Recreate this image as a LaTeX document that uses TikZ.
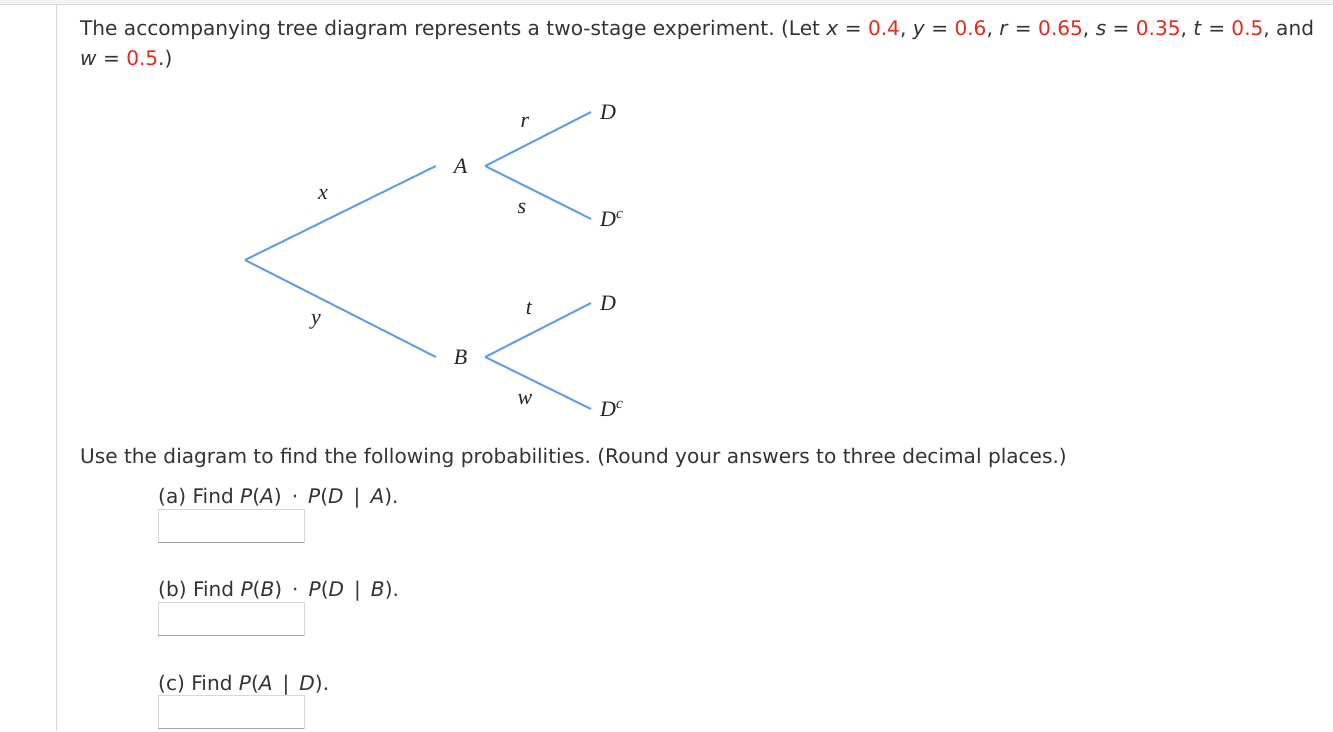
\documentclass[tikz,border=0pt]{standalone}
\usepackage{fontspec}
\setmainfont{DejaVu Sans}
\newfontfamily\treefont{Liberation Serif}
\definecolor{txt}{RGB}{51,51,51}
\definecolor{ans}{RGB}{232,40,30}
\definecolor{branch}{RGB}{95,158,235}
\definecolor{topbar}{RGB}{243,243,243}
\definecolor{rule}{RGB}{215,215,215}
\frenchspacing
\newcommand{\wsp}{\hspace{0.5em}}
\begin{document}
\begin{tikzpicture}[x=1pt,y=-1pt,
  body/.style={anchor=base west,inner sep=0pt,font=\fontsize{20.1}{24}\selectfont,text=txt},
  branchline/.style={draw=branch,line width=2pt},
  tlabel/.style={inner sep=0pt,font=\treefont\itshape\fontsize{22}{24}\selectfont,text=black!85},
  midnode/.style={tlabel,minimum width=49pt,minimum height=16pt},
  leaf/.style={tlabel,anchor=west,inner xsep=9pt},
  ansbox/.style={draw=rule,line width=0.8pt,minimum width=146pt,minimum height=33pt,inner sep=0pt}]
\useasboundingbox (0,0) rectangle (1333,731);
\fill[white] (0,0) rectangle (1333,731);
\fill[topbar] (0,0) rectangle (1333,4.5);
\draw[rule,line width=0.8pt] (0,4.5) -- (1333,4.5);
\draw[rule,line width=1pt] (56.5,4.5) -- (56.5,731);

\node[body] (l1) at (80,35) {The accompanying tree diagram represents a two-stage experiment. (Let \textit{x} = \textcolor{ans}{0.4}, \textit{y} = \textcolor{ans}{0.6}, \textit{r} = \textcolor{ans}{0.65}, \textit{s} = \textcolor{ans}{0.35}, \textit{t} = \textcolor{ans}{0.5}, and};
\node[body] (l2) at (80,65) {\textit{w} = \textcolor{ans}{0.5}.)};

% tree
\coordinate (root) at (245,260);
\node[midnode] (A) at (460.5,166) {A};
\node[midnode] (B) at (460.5,357) {B};
\node[leaf] (D1) at (591,112) {D};
\node[leaf] (D1c) at (591,219) {D\textsuperscript{c}};
\node[leaf] (D2) at (591,303) {D};
\node[leaf] (D2c) at (591,409) {D\textsuperscript{c}};
\draw[branchline] (root) -- (A.west);
\draw[branchline] (root) -- (B.west);
\draw[branchline] (A.east) -- (D1.west);
\draw[branchline] (A.east) -- (D1c.west);
\draw[branchline] (B.east) -- (D2.west);
\draw[branchline] (B.east) -- (D2c.west);
\node[tlabel] (lx) at (323,194) {x};
\node[tlabel] (ly) at (316,322) {y};
\node[tlabel] (lr) at (525,122) {r};
\node[tlabel] (ls) at (522,208) {s};
\node[tlabel] (lt) at (529,308) {t};
\node[tlabel] (lw) at (525,400) {w};

\node[body] (q) at (80,463) {Use the diagram to find the following probabilities. (Round your answers to three decimal places.)};
\node[body] (qa) at (158,503) {(a) Find \textit{P}(\textit{A})\wsp·\wsp\textit{P}(\textit{D}\wsp|\wsp\textit{A}).};
\node[ansbox] (ba) at (231,526) {};
\node[body] (qb) at (158,596) {(b) Find \textit{P}(\textit{B})\wsp·\wsp\textit{P}(\textit{D}\wsp|\wsp\textit{B}).};
\node[ansbox] (bb) at (231,619) {};
\node[body] (qc) at (158,690) {(c) Find \textit{P}(\textit{A}\wsp|\wsp\textit{D}).};
\node[ansbox] (bc) at (231,712) {};
\foreach \b in {ba,bb,bc}{\draw[black!35,line width=1pt] (\b.south west) -- (\b.south east);}
\end{tikzpicture}
\end{document}
